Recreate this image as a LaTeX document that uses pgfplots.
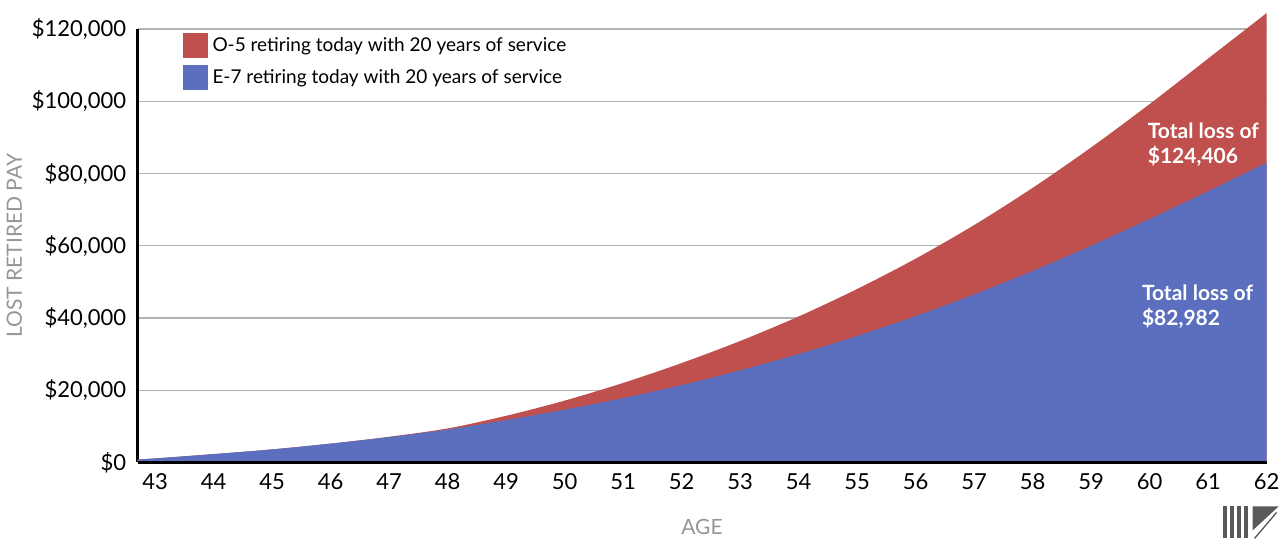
\documentclass[border=0pt]{standalone}
\usepackage{fontspec}
\setmainfont{Lato}
\usepackage{pgfplots}
\pgfplotsset{compat=1.18}
\begin{document}
\begin{tikzpicture}
\definecolor{ofive}{RGB}{192,80,77}
\definecolor{eseven}{RGB}{91,111,190}
\definecolor{labgray}{RGB}{150,150,150}
\begin{axis}[
  scale only axis,
  width=564pt, height=216.5pt,
  xmin=42.7, xmax=62, ymin=0, ymax=120000,
  clip=false,
  axis x line=bottom, axis y line=left,
  axis line style={black, line width=1.2pt, -},
  xtick={43,...,62},
  ytick={0,20000,...,120000},
  scaled y ticks=false,
  yticklabels={\$0,\$20{,}000,\$40{,}000,\$60{,}000,\$80{,}000,\$100{,}000,\$120{,}000},
  /pgf/number format/assume math mode=true,
  tick style={draw=none},
  ticklabel style={font=\fontsize{11}{13}\selectfont},
  ymajorgrids, y grid style={gray!60, line width=0.6pt},
  xlabel={AGE}, ylabel={LOST RETIRED PAY},
  label style={font=\fontsize{10.5}{12}\selectfont, text=labgray},
  ylabel style={yshift=-2pt},
  xlabel style={yshift=-8pt},
  legend style={draw=none, fill=none, at={(0.035,1.0)}, anchor=north west,
    font=\fontsize{9.5}{11}\selectfont, row sep=3pt},
  legend cell align=left,
  legend image code/.code={\fill[#1] (0pt,-6pt) rectangle (12.5pt,6.5pt);},
]
\addplot[fill=ofive, draw=none, smooth] coordinates {
 (42.7,800) (43,1100) (44,2300) (45,3600) (46,5200) (47,7100) (48,9400)
 (49,12900) (50,17100) (51,22000) (52,27500) (53,33600) (54,40400)
 (55,48000) (56,56400) (57,65700) (58,76000) (59,87200) (60,99200)
 (61,111800) (62,124406)} \closedcycle;
\addlegendentry{O-5 retiring today with 20 years of service}
\addplot[fill=eseven, draw=none, smooth] coordinates {
 (42.7,800) (43,1100) (44,2300) (45,3600) (46,5200) (47,7000) (48,9100)
 (49,11700) (50,14600) (51,17800) (52,21400) (53,25500) (54,30000)
 (55,35000) (56,40500) (57,46500) (58,53000) (59,60000) (60,67400)
 (61,75100) (62,82982)} \closedcycle;
\addlegendentry{E-7 retiring today with 20 years of service}
\draw[black, line width=1.2pt] (axis cs:42.7,0) -- (axis cs:62,0);
\node[anchor=north west, text=white, align=left, font=\bfseries\fontsize{10.5}{12.5}\selectfont]
  at (axis cs:59.85,96000) {Total loss of\\\$124,406};
\node[anchor=north west, text=white, align=left, font=\bfseries\fontsize{10.5}{12.5}\selectfont]
  at (axis cs:59.75,51000) {Total loss of\\\$82,982};
\coordinate (br) at (rel axis cs:1,0);
\coordinate (tl) at (rel axis cs:0,1);
\end{axis}
% small logo under the right end
\begin{scope}[shift={(br)}]
  \foreach \i in {0,1,2,3} {
    \fill[gray!70!black] (-22pt+\i*3.6pt,-22pt) rectangle (-20pt+\i*3.6pt,-38pt);
  }
  \fill[gray!70!black] (-7pt,-22pt) -- (6pt,-22pt) -- (-7pt,-34pt) -- cycle;
  \draw[gray!60!black, line width=0.6pt] (-6pt,-38pt) -- (5pt,-25pt);
\end{scope}
\path (tl) ++(0,14.5pt);
\end{tikzpicture}
\end{document}
